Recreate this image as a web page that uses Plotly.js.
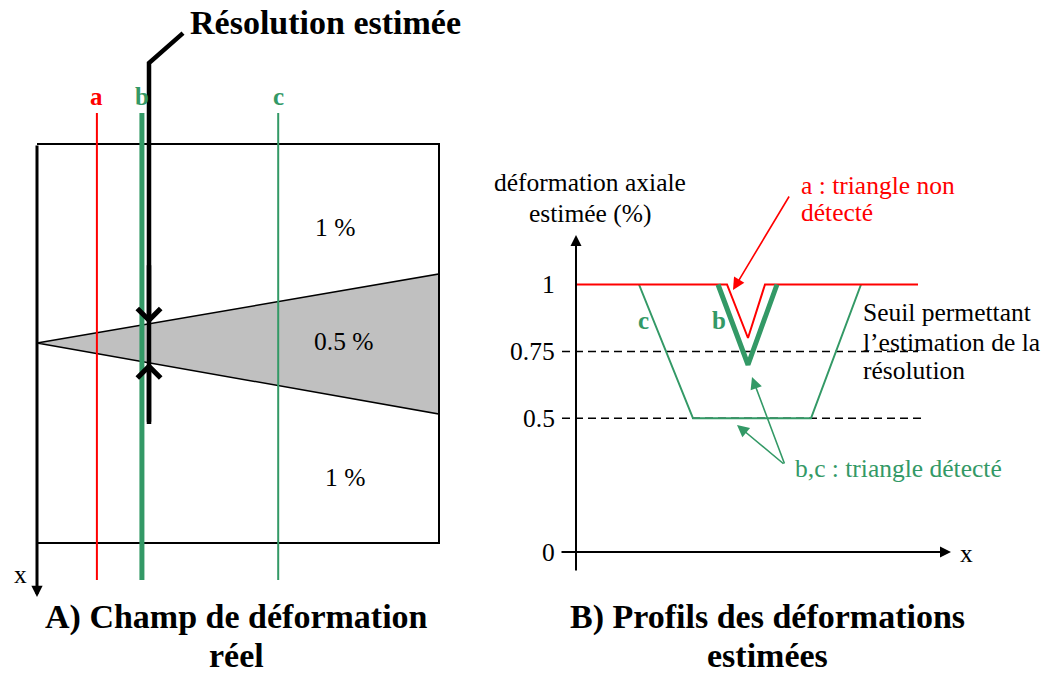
<!DOCTYPE html>
<html><head><meta charset="utf-8">
<script src="https://cdn.plot.ly/plotly-3.0.1.min.js"></script>
<style>html,body{margin:0;padding:0;background:#fff}#chart{width:1050px;height:675px}</style>
</head><body><div id="chart"></div>
<script>
// ---------- Panel A : real strain field (u = lateral position, d = depth, box normalised) ----------
const boxU = [0, 1, 1, 0];
const boxD = [0, 0, 1, 1];
const triU = [0, 1, 1, 0];
const triD = [0.4987, 0.3258, 0.6767, 0.4987];
const profileNames = ['a', 'b', 'c'];
const profileU = [0.149, 0.261, 0.6];
const fieldLabels = ['1 %', '0.5 %', '1 %'];
const fieldLabelU = [0.741, 0.764, 0.766];
const fieldLabelD = [0.2105, 0.496, 0.837];
const resolutionU = 0.2786;

// ---------- Panel B : estimated strain profiles ----------
const profA_x = [0, 15.1, 17.2, 18.9, 34.2];
const profA_y = [1, 1, 0.8, 1, 1];
const profB_x = [14.2, 17.2, 20.1];
const profB_y = [1, 0.7, 1];
const profC_x = [6.3, 11.7, 23.5, 28.5];
const profC_y = [1, 0.5, 0.5, 1];
const tickVals = [1, 0.75, 0.5, 0];
const tickText = ['1', '0.75', '0.5', '0'];
const thresholds = [0.75, 0.5];
const thresholdEnds = [34.2, 34.7];

// ---------- styles / layout helpers ----------
const W = 1050, H = 675;
const RED = '#ff0000', GREEN = '#339966', BLACK = '#000000', GREY = '#c0c0c0';
const SERIF = '"Liberation Serif", "Times New Roman", serif';
const P = (x, y) => ({x: x / W, y: 1 - y / H});
const profileColor = [RED, GREEN, GREEN];
const profileWidth = [2, 5, 2];

const traces = [];
// triangle (0.5 %)
traces.push({x: triU, y: triD, xaxis: 'x', yaxis: 'y', mode: 'lines', fill: 'toself',
  fillcolor: GREY, line: {color: BLACK, width: 1.5}, hoverinfo: 'skip'});
// box (top, right, bottom edges)
traces.push({x: boxU, y: boxD, xaxis: 'x', yaxis: 'y', mode: 'lines',
  line: {color: BLACK, width: 2}, hoverinfo: 'skip'});
// profiles a, b, c
profileU.forEach((u, i) => traces.push({x: [u, u], y: [-0.0777, 1.0927], xaxis: 'x', yaxis: 'y',
  mode: 'lines', line: {color: profileColor[i], width: profileWidth[i]}, hoverinfo: 'skip'}));
// resolution leader line
traces.push({x: [0.3632, resolutionU, resolutionU], y: [-0.278, -0.203, 0.7018], xaxis: 'x', yaxis: 'y',
  mode: 'lines', line: {color: BLACK, width: 4.5}, hoverinfo: 'skip'});

// panel B thresholds
thresholds.forEach((t, i) => traces.push({x: [-1.4, thresholdEnds[i]], y: [t, t], xaxis: 'x2', yaxis: 'y2',
  mode: 'lines', line: {color: BLACK, width: 1.5, dash: '8px,5px'}, hoverinfo: 'skip'}));
// profiles
traces.push({x: profC_x, y: profC_y, xaxis: 'x2', yaxis: 'y2', mode: 'lines',
  line: {color: GREEN, width: 2}, hoverinfo: 'skip'});
traces.push({x: profA_x, y: profA_y, xaxis: 'x2', yaxis: 'y2', mode: 'lines',
  line: {color: RED, width: 2}, hoverinfo: 'skip'});
traces.push({x: profB_x, y: profB_y, xaxis: 'x2', yaxis: 'y2', mode: 'lines',
  line: {color: GREEN, width: 5}, hoverinfo: 'skip'});

const ann = [];
function T(text, px, py, o) {
  o = o || {};
  const p = P(px, py);
  ann.push({text: text, x: p.x, y: p.y, xref: 'paper', yref: 'paper', showarrow: false,
    xanchor: o.xa || 'center', yanchor: 'middle',
    font: {family: SERIF, size: o.size || 25.5, color: o.color || BLACK, weight: o.bold ? 'bold' : 'normal'}});
}
function A(tipX, tipY, tailX, tailY, o) {
  ann.push(Object.assign({text: '', x: tipX, y: tipY, ax: tailX, ay: tailY,
    showarrow: true, standoff: 0, startstandoff: 0}, o));
}

// Panel A texts
T('Résolution estimée', 188, 23, {xa: 'left', bold: true, size: 34});
T('A) Champ de déformation', 236, 617, {bold: true, size: 34});
T('réel', 236, 655.5, {bold: true, size: 34});
T('x', 20, 574);
profileNames.forEach((n, i) => {
  ann.push({text: n, x: profileU[i], y: -0.118, xref: 'x', yref: 'y', showarrow: false,
    font: {family: SERIF, size: 25, color: profileColor[i], weight: 'bold'}});
});
fieldLabels.forEach((t, i) => {
  ann.push({text: t, x: fieldLabelU[i], y: fieldLabelD[i], xref: 'x', yref: 'y', showarrow: false,
    font: {family: SERIF, size: 25.5, color: BLACK}});
});
// left axis arrow (depth x)
A(0, 1.1353, 0, 0, {xref: 'x', yref: 'y', axref: 'x', ayref: 'y', arrowhead: 2, arrowsize: 0.75,
  arrowwidth: 3, arrowcolor: BLACK});
// resolution arrows pointing to the triangle edges
const dUp = triD[0] + (triD[1] - triD[0]) * resolutionU;
const dLow = triD[3] + (triD[2] - triD[3]) * resolutionU;
A(resolutionU, dUp, resolutionU, 0.30, {xref: 'x', yref: 'y', axref: 'x', ayref: 'y', arrowhead: 4,
  arrowsize: 1, arrowwidth: 4.5, arrowcolor: BLACK});
A(resolutionU, dLow, resolutionU, 0.70, {xref: 'x', yref: 'y', axref: 'x', ayref: 'y', arrowhead: 4,
  arrowsize: 1, arrowwidth: 4.5, arrowcolor: BLACK});

// Panel B axes
A(0, 1.185, 0, -0.0748, {xref: 'x2', yref: 'y2', axref: 'x2', ayref: 'y2', arrowhead: 2, arrowsize: 1.1,
  arrowwidth: 2, arrowcolor: BLACK});
A(37.5, 0, -1.6, 0, {xref: 'x2', yref: 'y2', axref: 'x2', ayref: 'y2', arrowhead: 2, arrowsize: 1.1,
  arrowwidth: 2, arrowcolor: BLACK});
tickVals.forEach((v, i) => ann.push({text: tickText[i], x: -1.9, y: v, xref: 'x2', yref: 'y2',
  showarrow: false, xanchor: 'right', yanchor: 'middle', font: {family: SERIF, size: 25.5, color: BLACK}}));
T('x', 966, 553);
T('déformation axiale', 590, 183);
T('estimée (%)', 590, 213);
// profile labels
T('c', 643, 320, {color: GREEN, bold: true, size: 25});
T('b', 719, 320, {color: GREEN, bold: true, size: 25});
// annotations
T('a : triangle non', 799, 185, {xa: 'left', color: RED});
T('détecté', 799, 212, {xa: 'left', color: RED});
T('Seuil permettant', 861, 312, {xa: 'left'});
T('l\u2019estimation de la', 861, 342, {xa: 'left'});
T('résolution', 861, 370, {xa: 'left'});
T('b,c : triangle détecté', 793, 468, {xa: 'left', color: GREEN});
T('B) Profils des déformations', 767, 617, {bold: true, size: 34});
T('estimées', 767, 655.5, {bold: true, size: 34});

// pointer arrows (pixel offsets)
function PA(tx, ty, sx, sy, color) {
  const p = P(tx, ty);
  A(p.x, p.y, sx - tx, sy - ty, {xref: 'paper', yref: 'paper', arrowhead: 2, arrowsize: 1.5,
    arrowwidth: 1.6, arrowcolor: color});
}
PA(733, 290, 790, 195, RED);
PA(752, 377, 785, 465, GREEN);
PA(737, 425, 785, 465, GREEN);

const layout = {
  width: W, height: H, margin: {l: 0, r: 0, t: 0, b: 0},
  paper_bgcolor: '#ffffff', plot_bgcolor: 'rgba(0,0,0,0)', showlegend: false,
  xaxis: {domain: [0, 0.5], range: [-37 / 402, (525 - 37) / 402], visible: false, fixedrange: true},
  yaxis: {domain: [0, 1], range: [(675 - 144) / 399, -144 / 399], visible: false, fixedrange: true},
  xaxis2: {domain: [0.5, 1], range: [(525 - 576) / 10, (1050 - 576) / 10], visible: false, fixedrange: true, anchor: 'y2'},
  yaxis2: {domain: [0, 1], range: [(552 - 675) / 267.5, 552 / 267.5], visible: false, fixedrange: true, anchor: 'x2'},
  annotations: ann
};
Plotly.newPlot('chart', traces, layout, {staticPlot: true, displayModeBar: false});
</script></body></html>
